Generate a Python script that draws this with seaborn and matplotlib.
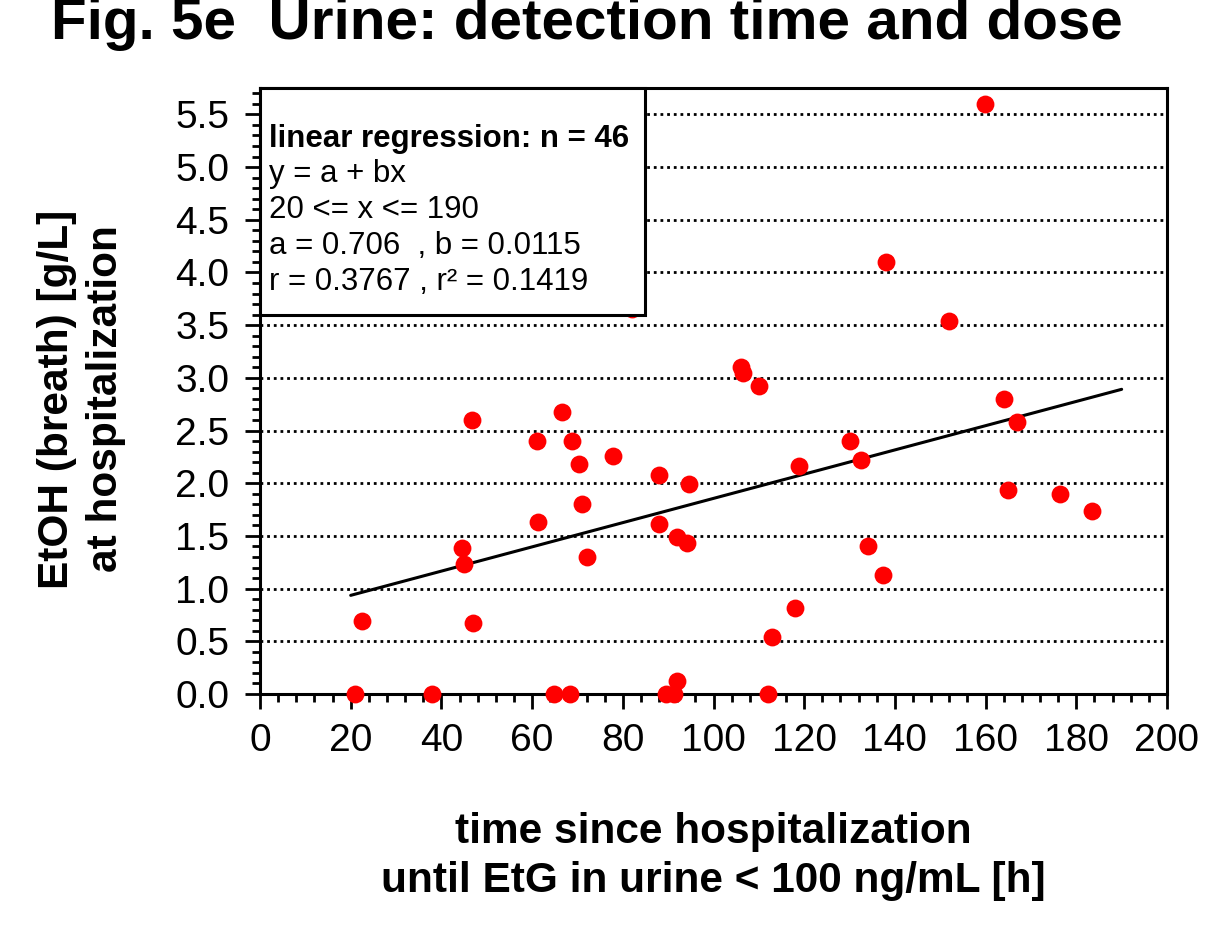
import numpy as np
import pandas as pd
import matplotlib
matplotlib.use("Agg")
import matplotlib.pyplot as plt
import seaborn as sns
from matplotlib.patches import Rectangle
from matplotlib.ticker import MultipleLocator, FixedLocator

# ---- data ----
time_h = [20.9, 22.6, 37.9, 44.6, 45.0, 46.8, 47.0, 61.0, 61.2, 64.9,
          66.7, 68.4, 68.9, 70.4, 71.0, 72.0, 77.9, 82.0, 88.0, 88.0,
          89.5, 91.4, 91.9, 91.9, 94.2, 94.7, 106.0, 106.4, 110.0, 112.0,
          113.0, 118.0, 118.8, 130.0, 132.5, 134.0, 137.4, 138.0, 152.0,
          159.8, 164.0, 165.0, 166.9, 176.5, 183.5]
etoh_gl = [0.0, 0.69, 0.0, 1.39, 1.23, 2.60, 0.67, 2.40, 1.63, 0.0,
           2.68, 0.0, 2.40, 2.18, 1.80, 1.30, 2.26, 3.65, 2.08, 1.61,
           0.0, 0.0, 0.12, 1.49, 1.43, 1.99, 3.10, 3.05, 2.92, 0.0,
           0.54, 0.82, 2.16, 2.40, 2.22, 1.40, 1.13, 4.10, 3.54,
           5.60, 2.80, 1.94, 2.58, 1.90, 1.74]

reg_a = 0.706
reg_b = 0.0115
reg_xrange = [20, 190]

x_ticks = [0, 20, 40, 60, 80, 100, 120, 140, 160, 180, 200]
y_ticks = [0.0, 0.5, 1.0, 1.5, 2.0, 2.5, 3.0, 3.5, 4.0, 4.5, 5.0, 5.5]

title = "Fig. 5e  Urine: detection time and dose"
xlabel = "time since hospitalization\nuntil EtG in urine < 100 ng/mL [h]"
ylabel = "EtOH (breath) [g/L]\nat hospitalization"
box_lines = ["y = a + bx", "20 <= x <= 190", "a = 0.706  , b = 0.0115",
             "r = 0.3767 , r\u00b2 = 0.1419"]
box_head = "linear regression: n = 46"

df = pd.DataFrame({"t": time_h, "e": etoh_gl})
reg_df = pd.DataFrame({"t": reg_xrange,
                       "e": [reg_a + reg_b * v for v in reg_xrange]})

sns.set_style("ticks")
plt.rcParams["font.family"] = ["Liberation Sans", "DejaVu Sans"]
plt.rcParams["text.color"] = "black"
plt.rcParams["axes.labelcolor"] = "black"
plt.rcParams["xtick.color"] = "black"
plt.rcParams["ytick.color"] = "black"

fig = plt.figure(figsize=(12.25, 9.36), dpi=100)
ax = fig.add_axes([260/1225, 1 - 694/936, (1167-260)/1225, (694-88)/936])

# gridlines
for yv in y_ticks[1:]:
    ax.axhline(yv, color="black", lw=2, ls=(0, (1, 1.4)), zorder=1)

sns.lineplot(data=reg_df, x="t", y="e", ax=ax, color="black", lw=2.2,
             zorder=3)
sns.scatterplot(data=df, x="t", y="e", ax=ax, color="#ff0000", s=165,
                linewidth=0, zorder=4, clip_on=False)

ax.set_xlim(0, 200)
ax.set_ylim(0, 5.75)
ax.xaxis.set_major_locator(FixedLocator(x_ticks))
ax.yaxis.set_major_locator(FixedLocator(y_ticks))
ax.xaxis.set_minor_locator(MultipleLocator(4))
ax.yaxis.set_minor_locator(MultipleLocator(0.1))
ax.set_xticklabels([str(v) for v in x_ticks])
ax.set_yticklabels([f"{v:.1f}" for v in y_ticks])
ax.tick_params(axis="both", which="major", direction="out", length=11,
               width=2, labelsize=28, color="black", labelcolor="black")
ax.tick_params(axis="both", which="minor", direction="out", length=6,
               width=2, color="black")
ax.tick_params(axis="x", which="major", pad=10)
ax.tick_params(axis="y", which="major", pad=11)

for sp in ax.spines.values():
    sp.set_visible(True)
    sp.set_linewidth(2.2)
    sp.set_color("black")

ax.set_xlabel(xlabel, fontsize=30.5, fontweight="bold", linespacing=1.3,
              color="black")
ax.set_ylabel(ylabel, fontsize=30.5, fontweight="bold", linespacing=1.3,
              color="black")
ax.xaxis.set_label_coords(0.5, (694 - 812) / 606)
ax.yaxis.set_label_coords((126 - 260) / 907, 0.487)

# regression info box (axes coords)
bx0, bx1 = 0.0, (645 - 260) / 907
by0, by1 = (694 - 315) / 606, 1.0
ax.add_patch(Rectangle((bx0, by0), bx1 - bx0, by1 - by0,
                       transform=ax.transAxes, facecolor="white",
                       edgecolor="black", lw=2.2, zorder=6, clip_on=False))
tx = (269 - 260) / 907
ax.text(tx, (694 - 147) / 606, box_head, transform=ax.transAxes,
        fontsize=22.5, fontweight="bold", va="baseline", ha="left", zorder=7)
for i, line in enumerate(box_lines):
    ybase = 182 + i * 36
    ax.text(tx, (694 - ybase) / 606, line, transform=ax.transAxes,
            fontsize=22.5, va="baseline", ha="left", zorder=7)

fig.text(587 / 1225, 1 - 39 / 936, title, ha="center", va="baseline",
         fontsize=42, fontweight="bold", color="black")

fig.savefig("out.png", dpi=100)
